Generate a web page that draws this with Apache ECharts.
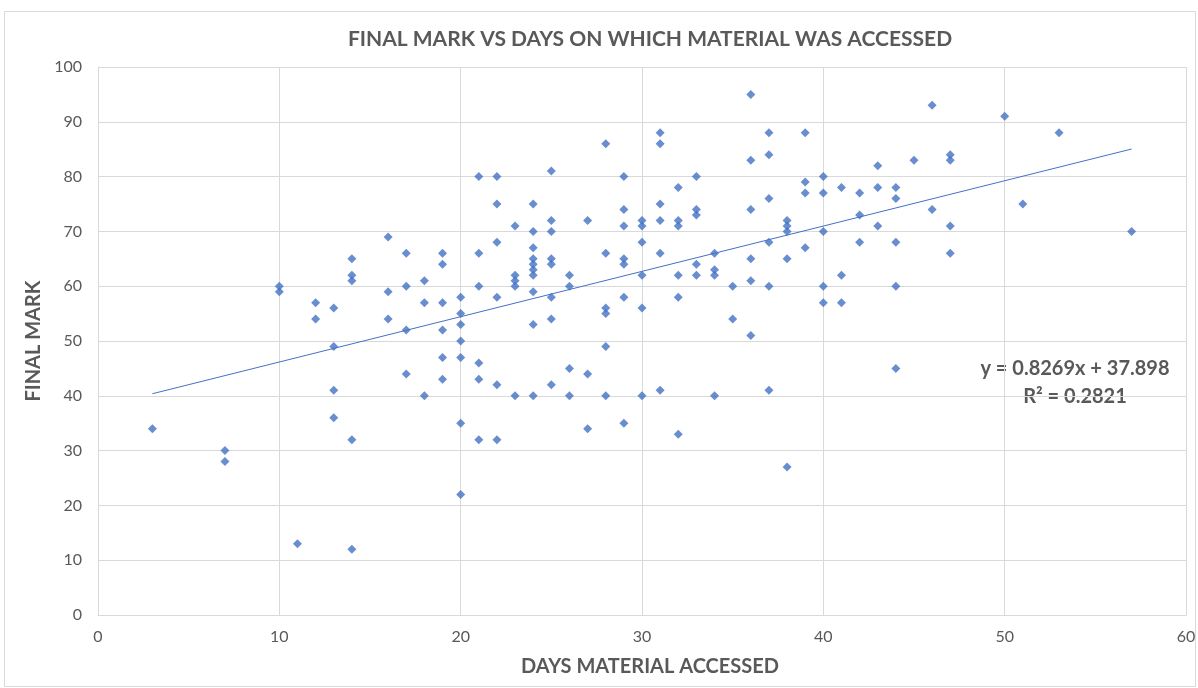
<!DOCTYPE html>
<html>
<head>
<meta charset="utf-8">
<script src="https://cdn.jsdelivr.net/npm/echarts@6/dist/echarts.min.js"></script>
<style>
  html, body { margin: 0; padding: 0; background: #fff; }
  #main { width: 1198px; height: 688px; }
</style>
</head>
<body>
<div id="main"></div>
<script>
// days on which material was accessed (x) and final mark (y), one entry per student
var daysAccessed = [
    3, 7, 7, 10, 10, 11, 12, 12, 13, 13, 13, 13,
    14, 14, 14, 14, 14, 16, 16, 16, 17, 17, 17, 17, 18, 18, 18,
    19, 19, 19, 19, 19, 19, 20, 20, 20, 20, 20, 20, 20,
    21, 21, 21, 21, 21, 21, 22, 22, 22, 22, 22, 22, 23, 23, 23, 23, 23,
    24, 24, 24, 24, 24, 24, 24, 24, 24, 24, 25, 25, 25, 25, 25, 25, 25, 25,
    26, 26, 26, 26, 27, 27, 27, 28, 28, 28, 28, 28, 28,
    29, 29, 29, 29, 29, 29, 29, 30, 30, 30, 30, 30, 30,
    31, 31, 31, 31, 31, 31, 32, 32, 32, 32, 32, 32, 33, 33, 33, 33, 33,
    34, 34, 34, 34, 35, 35, 36, 36, 36, 36, 36, 36, 37, 37, 37, 37, 37, 37,
    38, 38, 38, 38, 38, 39, 39, 39, 39, 40, 40, 40, 40, 40,
    41, 41, 41, 42, 42, 42, 43, 43, 43, 44, 44, 44, 44, 44,
    45, 46, 46, 47, 47, 47, 47, 50, 51, 53, 57
];
var finalMark = [
    34, 30, 28, 60, 59, 13, 57, 54, 56, 49, 41, 36,
    65, 62, 61, 32, 12, 69, 59, 54, 66, 60, 52, 44, 61, 57, 40,
    66, 64, 57, 52, 47, 43, 58, 55, 53, 50, 47, 35, 22,
    80, 66, 60, 46, 43, 32, 80, 75, 68, 58, 42, 32, 71, 62, 61, 60, 40,
    75, 70, 67, 65, 64, 63, 62, 59, 53, 40, 81, 72, 70, 65, 64, 58, 54, 42,
    62, 60, 45, 40, 72, 44, 34, 86, 66, 56, 55, 49, 40,
    80, 74, 71, 65, 64, 58, 35, 72, 71, 68, 62, 56, 40,
    88, 86, 75, 72, 66, 41, 78, 72, 71, 62, 58, 33, 80, 74, 73, 64, 62,
    66, 63, 62, 40, 60, 54, 95, 83, 74, 65, 61, 51, 88, 84, 76, 68, 60, 41,
    72, 71, 70, 65, 27, 88, 79, 77, 67, 80, 77, 70, 60, 57,
    78, 62, 57, 77, 73, 68, 82, 78, 71, 78, 76, 68, 60, 45,
    83, 93, 74, 84, 83, 71, 66, 91, 75, 88, 70
];
// linear trendline as printed on the chart
var trendSlope = 0.8269;
var trendIntercept = 37.898;
var trendR2 = 0.2821;
var xTicks = [0, 10, 20, 30, 40, 50, 60];
var yTicks = [0, 10, 20, 30, 40, 50, 60, 70, 80, 90, 100];

var points = daysAccessed.map(function (d, i) { return [d, finalMark[i]]; });
var xMin = Math.min.apply(null, daysAccessed);
var xMax = Math.max.apply(null, daysAccessed);
var trend = [
    [xMin, trendSlope * xMin + trendIntercept],
    [xMax, trendSlope * xMax + trendIntercept]
];

var grey = '#595959';
var gridCol = '#d9d9d9';
var font = 'Lato, "Open Sans", sans-serif';

var myChart = echarts.init(document.getElementById('main'));
myChart.setOption({
    animation: false,
    textStyle: { fontFamily: font },
    title: {
        text: 'FINAL MARK VS DAYS ON WHICH MATERIAL WAS ACCESSED',
        left: 645,
        textAlign: 'center',
        top: 24,
        textStyle: { fontSize: 21, fontWeight: 'bold', color: grey, fontFamily: font }
    },
    grid: { left: 98, right: 12, top: 67, bottom: 73, outerBoundsMode: 'none' },
    xAxis: {
        type: 'value',
        min: xTicks[0], max: xTicks[xTicks.length - 1], interval: 10,
        name: 'DAYS MATERIAL ACCESSED',
        nameLocation: 'middle',
        nameGap: 42,
        nameTextStyle: { fontSize: 20, fontWeight: 'bold', color: grey, padding: [0, 0, 0, 16] },
        axisLine: { lineStyle: { color: gridCol } },
        axisTick: { show: false },
        axisLabel: { fontSize: 16, color: grey, margin: 14 },
        splitLine: { show: true, lineStyle: { color: gridCol, width: 1 } }
    },
    yAxis: {
        type: 'value',
        min: yTicks[0], max: yTicks[yTicks.length - 1], interval: 10,
        name: 'FINAL MARK',
        nameLocation: 'middle',
        nameRotate: 90,
        nameGap: 42,
        nameTextStyle: { fontSize: 20, fontWeight: 'bold', color: grey },
        axisLine: { show: true, lineStyle: { color: gridCol } },
        axisTick: { show: false },
        axisLabel: { fontSize: 16, color: grey, margin: 16 },
        splitLine: { show: true, lineStyle: { color: gridCol, width: 1 } }
    },
    graphic: [
        {
            type: 'rect', silent: true, z: -1,
            shape: { x: 4.5, y: 11.5, width: 1191, height: 675 },
            style: { fill: '#fff', stroke: gridCol, lineWidth: 1 }
        },
        {
            type: 'text', x: 1075, y: 359,
            style: {
                text: 'y = ' + trendSlope + 'x + ' + trendIntercept,
                fill: grey, font: 'bold 20px ' + font, textAlign: 'center'
            }
        },
        {
            type: 'text', x: 1075, y: 387,
            style: {
                text: 'R² = ' + trendR2,
                fill: grey, font: 'bold 20px ' + font, textAlign: 'center'
            }
        }
    ],
    series: [
        {
            name: 'Final mark',
            type: 'scatter',
            symbol: 'diamond',
            symbolSize: [9, 9],
            itemStyle: { color: '#4472C4' },
            data: points,
            z: 3
        },
        {
            name: 'Linear trend',
            type: 'line',
            showSymbol: false,
            lineStyle: { color: '#4472C4', width: 1 },
            data: trend,
            z: 2
        }
    ]
});
</script>
</body>
</html>
